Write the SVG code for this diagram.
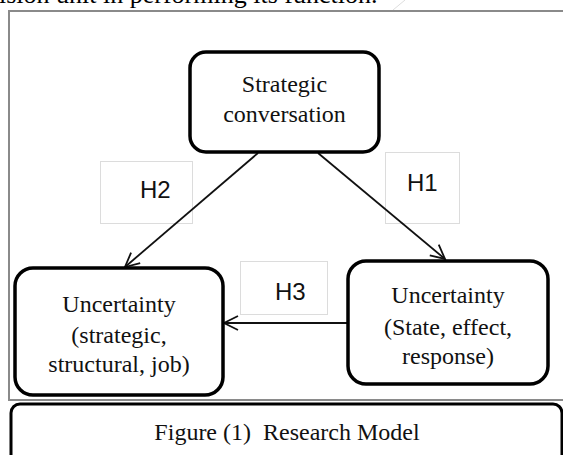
<svg xmlns="http://www.w3.org/2000/svg" width="563" height="455" viewBox="0 0 563 455">
<defs>
<style>
.node{fill:#fff;stroke:#000;stroke-width:3.5}
.lbl{fill:none;stroke:#dcdcdc;stroke-width:1}
.nt{font-family:"Liberation Serif",serif;font-size:24px;fill:#111;text-anchor:middle}
.ht{font-family:"Liberation Sans",Arial,sans-serif;font-size:24px;fill:#111}
.edge{stroke:#111;stroke-width:1.8;fill:none}
</style>
<marker id="arr" markerUnits="userSpaceOnUse" markerWidth="20" markerHeight="20" viewBox="-16 -10 20 20" refX="0" refY="0" orient="auto">
<path d="M-14,-7 L0,0 L-14,7" fill="none" stroke="#111" stroke-width="1.8"/>
</marker>
</defs>
<rect width="563" height="455" fill="#fff"/>
<text x="-1" y="3" font-family="Liberation Serif,serif" font-size="26" fill="#000">ision unit in performing its function.</text>
<line x1="393" y1="10" x2="405" y2="0" stroke="#ddd" stroke-width="1"/>
<rect id="frame" x="9" y="11" width="560" height="389" fill="none" stroke="#8a8a8a" stroke-width="2"/>
<g id="label-H2">
<rect class="lbl" x="100.5" y="161.5" width="92" height="62"/>
<text class="ht" x="140" y="198">H2</text>
</g>
<g id="label-H1">
<rect class="lbl" x="385.5" y="152.5" width="74" height="71"/>
<text class="ht" x="407" y="191">H1</text>
</g>
<g id="label-H3">
<rect class="lbl" x="240.5" y="261.5" width="87" height="53"/>
<text class="ht" x="275" y="300">H3</text>
</g>
<g id="edges">
<line class="edge" x1="258" y1="153" x2="125" y2="267" marker-end="url(#arr)"/>
<line class="edge" x1="318" y1="153" x2="445" y2="259" marker-end="url(#arr)"/>
<line class="edge" x1="348" y1="323" x2="224" y2="323" marker-end="url(#arr)"/>
</g>
<g id="node-strategic">
<rect class="node" x="190" y="52" width="189" height="100" rx="16"/>
<text class="nt" x="284.5" y="92">Strategic</text>
<text class="nt" x="284.5" y="122">conversation</text>
</g>
<g id="node-uncertainty-left">
<rect class="node" x="15" y="268" width="208" height="127" rx="18"/>
<text class="nt" x="119" y="312">Uncertainty</text>
<text class="nt" x="119" y="343">(strategic,</text>
<text class="nt" x="119" y="372">structural, job)</text>
</g>
<g id="node-uncertainty-right">
<rect class="node" x="348" y="261" width="200" height="123" rx="18"/>
<text class="nt" x="448" y="303">Uncertainty</text>
<text class="nt" x="448" y="335">(State, effect,</text>
<text class="nt" x="448" y="364">response)</text>
</g>
<g id="caption">
<rect x="11" y="404" width="551" height="70" rx="9" fill="#fff" stroke="#000" stroke-width="3"/>
<text class="nt" x="287" y="439.5">Figure (1)&#160; Research Model</text>
</g>
</svg>
